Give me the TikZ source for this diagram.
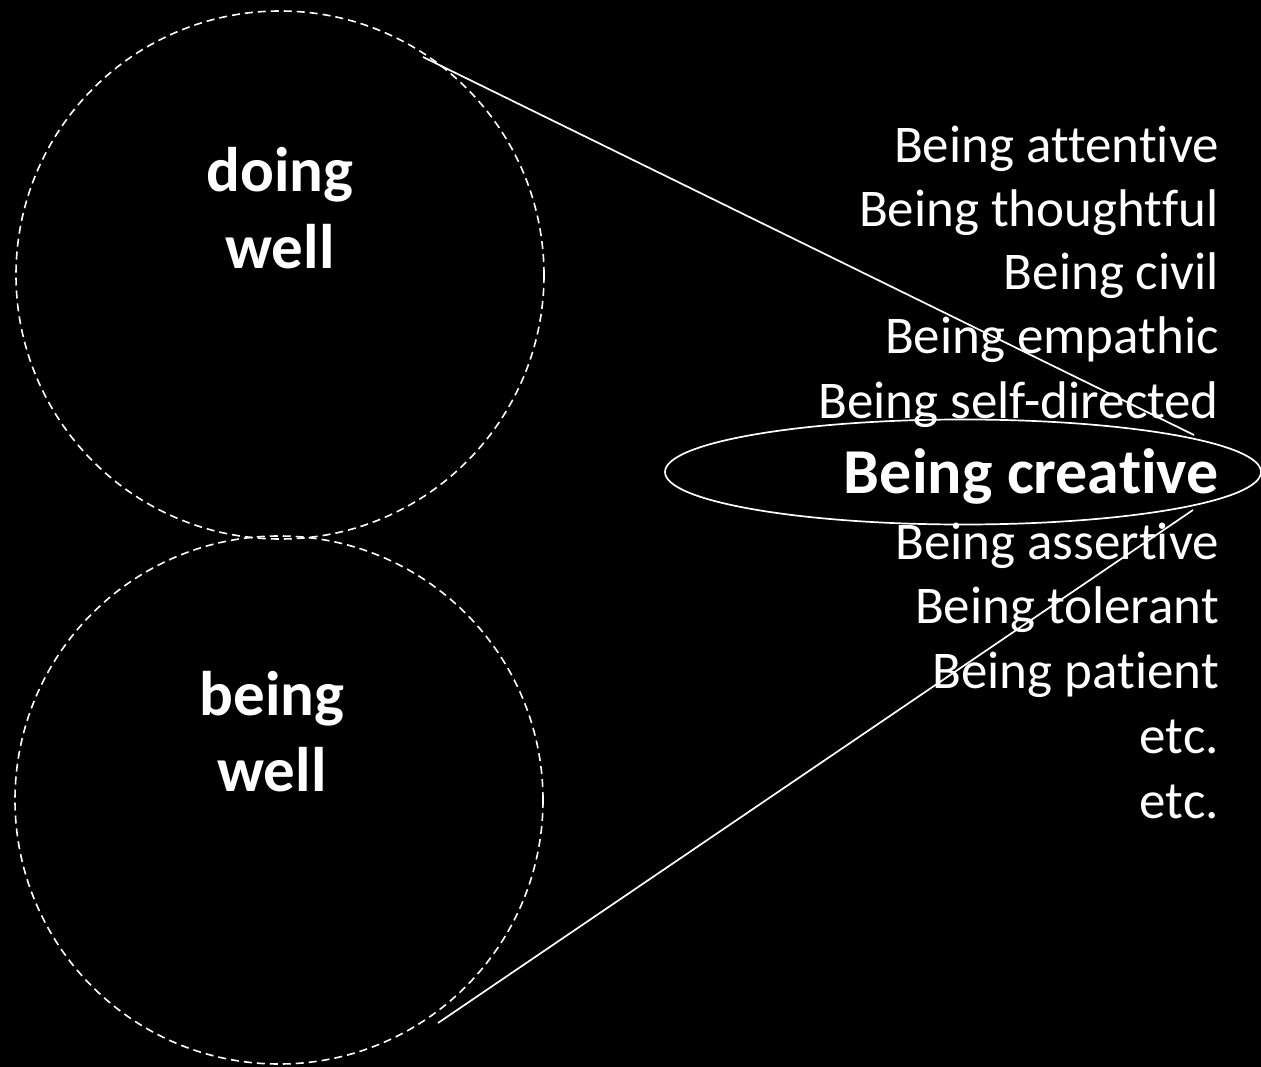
\documentclass[tikz,border=0pt]{standalone}
\usepackage{fontspec}
\setmainfont{Carlito}[Ligatures=NoCommon]
\usetikzlibrary{shapes.geometric}
\begin{document}
\begin{tikzpicture}[x=1pt,y=-1pt,
  bigcircle/.style={draw=white,circle,dash pattern=on 8pt off 5pt,line width=1.6pt,minimum size=528pt,inner sep=0pt},
  circlabel/.style={text=white,anchor=base,inner sep=0pt,font=\fontsize{63}{73}\selectfont\bfseries},
  item/.style={text=white,anchor=base east,inner sep=0pt,font=\fontsize{53}{64}\selectfont},
  bolditem/.style={text=white,anchor=base east,inner sep=0pt,font=\fontsize{64}{72}\selectfont\bfseries},
  thinline/.style={draw=white,line width=1.7pt}]
\fill[black] (0,0) rectangle (1261,1067);
\useasboundingbox (0,0) rectangle (1261,1067);
\node[bigcircle] (top) at (280,275) {};
\node[bigcircle] (bottom) at (279,800) {};
\node[circlabel] (doing) at (280,192) {doing};
\node[circlabel] (well1) at (280,269) {well};
\node[circlabel] (being) at (272,715) {being};
\node[circlabel] (well2) at (272,791) {well};
\node[draw=white,ellipse,line width=1.7pt,minimum width=596pt,minimum height=105pt,inner sep=0pt] (ell) at (963,472) {};
\node[item] (t1) at (1219,163) {Being attentive};
\node[item] (t2) at (1219,226.5) {Being thoughtful};
\node[item] (t3) at (1219,290) {Being civil};
\node[item] (t4) at (1219,353.5) {Being empathic};
\node[item] (t5) at (1219,418) {Being self-directed};
\node[bolditem] (t6) at (1219,493) {Being creative};
\node[item] (t7) at (1219,559) {Being assertive};
\node[item] (t8) at (1219,623) {Being tolerant};
\node[item] (t9) at (1219,688) {Being patient};
\node[item] (t10) at (1219,753) {etc.};
\node[item] (t11) at (1219,818) {etc.};
\coordinate (a1) at (423,57);
\coordinate (a2) at (1194,435);
\coordinate (b1) at (438,1023);
\coordinate (b2) at (1193,510);
\draw[thinline] (a1) -- (a2);
\draw[thinline] (b1) -- (b2);
\end{tikzpicture}
\end{document}
